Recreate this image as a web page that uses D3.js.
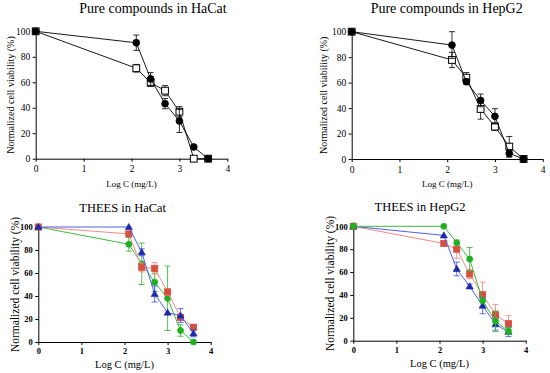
<!DOCTYPE html>
<html>
<head>
<meta charset="utf-8">
<script src="https://cdn.jsdelivr.net/npm/d3@7"></script>
<style>
	body { margin: 0; background: #fff; }
	svg { display: block; font-family: 'Liberation Serif', 'Times New Roman', serif; }
	.axis path, .axis line { stroke: #000; }
	.axis text { font-family: 'Liberation Serif', 'Times New Roman', serif; fill: #000; }
</style>
</head>
<body>
<div id="chart"></div>
<script>
// log concentrations
const logC = [0, 2.1, 2.4, 2.7, 3.0, 3.3, 3.6];
const xTicks = [0, 1, 2, 3, 4];
const yTicks = [0, 20, 40, 60, 80, 100];

// pure compounds, HaCat
const pureHaCatCircle = [100, 91, 62.6, 43.2, 29.6, 9.2, 0];
const pureHaCatCircleErr = [0, 6, 5, 4, 9, 1, 0];
const pureHaCatSquare = [100, 71, 59.7, 53.4, 36.9, 0, 0];
const pureHaCatSquareErr = [0, 3, 3, 4, 4, 0, 0];

// pure compounds, HepG2
const pureHepCircle = [100, 89.5, 60.7, 46, 33.5, 4.5, 0];
const pureHepCircleErr = [0, 10.5, 2, 5, 6, 3, 0];
const pureHepSquare = [100, 77.8, 63.9, 39.3, 25.4, 9.7, 0];
const pureHepSquareErr = [0, 6, 4, 8, 3, 8, 0];

// THEES, HaCat
const theesHaCatBlue = [100, 100, 78, 41.7, 25.5, 23, 7.5];
const theesHaCatBlueErr = [0, 0, 3, 7, 0, 6, 3];
const theesHaCatRed = [100, 94, 65, 64, 43.5, 21.4, 12.8];
const theesHaCatRedErr = [0, 2, 4, 5, 3, 2, 2];
const theesHaCatGreen = [100, 85, 68, 52, 38, 10, 0];
const theesHaCatGreenErr = [0, 6, 18, 8, 28, 5, 0];

// THEES, HepG2
const theesHepBlue = [100, 92, 62.7, 47.5, 30.6, 14.3, 7.6];
const theesHepBlueErr = [0, 0, 6, 2, 7, 5, 4];
const theesHepRed = [100, 85, 80, 58.3, 40.2, 22.7, 14.9];
const theesHepRedErr = [0, 2, 8, 4, 11, 9, 7];
const theesHepGreen = [100, 100, 85.7, 71.4, 35, 17, 8.5];
const theesHepGreenErr = [0, 0, 0, 10, 0, 9, 3];

const width = 550;
const height = 373;

const svg = d3.select('#chart').append('svg')
	.attr('width', width)
	.attr('height', height);

const panels = [
	{
		title: 'Pure compounds in HaCat', box: [35.7, 227.3, 31.3, 158.7],
		titleX: 153, titleY: 13, titleSize: 14,
		yLabelX: 14, xLabelY: 187, labelSize: 9, yLabelSize: 10,
		tickSize: 9.5, tickWeight: 'normal', xPad: 4,
		series: [
			{ values: pureHaCatSquare, err: pureHaCatSquareErr, shape: 'square', line: '#000', fill: '#fff', stroke: '#000' },
			{ values: pureHaCatCircle, err: pureHaCatCircleErr, shape: 'circle', line: '#000', fill: '#000', stroke: '#000' }
		]
	},
	{
		title: 'Pure compounds in HepG2', box: [351.7, 542.7, 31.7, 159],
		titleX: 446.7, titleY: 13, titleSize: 14,
		yLabelX: 327, xLabelY: 187, labelSize: 9, yLabelSize: 10,
		tickSize: 9.5, tickWeight: 'normal', xPad: 4,
		series: [
			{ values: pureHepSquare, err: pureHepSquareErr, shape: 'square', line: '#000', fill: '#fff', stroke: '#000' },
			{ values: pureHepCircle, err: pureHepCircleErr, shape: 'circle', line: '#000', fill: '#000', stroke: '#000' }
		]
	},
	{
		title: 'THEES in HaCat', box: [38.3, 210.7, 227, 342],
		titleX: 122.7, titleY: 212, titleSize: 12.5,
		yLabelX: 19, xLabelY: 368, labelSize: 10.5, yLabelSize: 11.5,
		tickSize: 8.5, tickWeight: 'bold', xPad: 3,
		series: [
			{ values: theesHaCatGreen, err: theesHaCatGreenErr, shape: 'circle', line: '#3dbb3d', fill: '#1fb01f', stroke: '#1fb01f' },
			{ values: theesHaCatRed, err: theesHaCatRedErr, shape: 'square', line: '#f08a86', fill: '#d2503c', stroke: '#e0504a' },
			{ values: theesHaCatBlue, err: theesHaCatBlueErr, shape: 'triangle', line: '#5060e8', fill: '#1c2aa8', stroke: '#1c2aa8' }
		]
	},
	{
		title: 'THEES in HepG2', box: [353.3, 525.7, 226.3, 340.7],
		titleX: 420, titleY: 211, titleSize: 12.5,
		yLabelX: 334, xLabelY: 367, labelSize: 10.5, yLabelSize: 11.5,
		tickSize: 8.5, tickWeight: 'bold', xPad: 3,
		series: [
			{ values: theesHepRed, err: theesHepRedErr, shape: 'square', line: '#f08a86', fill: '#d2503c', stroke: '#e0504a' },
			{ values: theesHepBlue, err: theesHepBlueErr, shape: 'triangle', line: '#5060e8', fill: '#1c2aa8', stroke: '#1c2aa8' },
			{ values: theesHepGreen, err: theesHepGreenErr, shape: 'circle', line: '#3dbb3d', fill: '#1fb01f', stroke: '#1fb01f' }
		]
	}
];

panels.forEach((p) => {
	const [left, right, top, bottom] = p.box;
	const x = d3.scaleLinear().domain([0, 4]).range([left, right]);
	const y = d3.scaleLinear().domain([0, 100]).range([bottom, top]);
	const g = svg.append('g');
	const bottomPanel = p.tickWeight === 'bold';

	// axes
	const xAxisG = g.append('g')
		.attr('class', 'axis')
		.attr('transform', `translate(0, ${bottom})`)
		.call(d3.axisBottom(x).tickValues(xTicks).tickFormat(d3.format('d'))
			.tickSize(3).tickSizeOuter(0).tickPadding(p.xPad));
	const yAxisG = g.append('g')
		.attr('class', 'axis')
		.attr('transform', `translate(${left}, 0)`)
		.call(d3.axisLeft(y).tickValues(yTicks).tickFormat(d3.format('d'))
			.tickSize(3).tickSizeOuter(0).tickPadding(2.5));
	[xAxisG, yAxisG].forEach(a => {
		a.attr('font-family', null);
		a.selectAll('text')
			.style('font-size', p.tickSize + 'px')
			.style('font-weight', p.tickWeight);
	});

	// titles and labels
	g.append('text')
		.attr('x', p.titleX)
		.attr('y', p.titleY)
		.attr('text-anchor', 'middle')
		.style('font-size', p.titleSize + 'px')
		.text(p.title);
	g.append('text')
		.attr('x', (left + right) / 2)
		.attr('y', p.xLabelY)
		.attr('text-anchor', 'middle')
		.style('font-size', p.labelSize + 'px')
		.text('Log C (mg/L)');
	g.append('text')
		.attr('transform', `translate(${p.yLabelX}, ${(top + bottom) / 2}) rotate(-90)`)
		.attr('text-anchor', 'middle')
		.style('font-size', p.yLabelSize + 'px')
		.text('Normalized cell viability (%)');

	const line = d3.line()
		.x((d, i) => x(logC[i]))
		.y(d => y(d));

	p.series.forEach((s) => {
		const pts = s.values.map((v, i) => ({ x: logC[i], v: v, e: s.err[i] }));

		// error bars
		const eb = g.append('g')
			.attr('stroke', bottomPanel ? s.line : '#000')
			.attr('stroke-width', bottomPanel ? 0.9 : 0.8)
			.attr('fill', 'none');
		pts.filter(d => d.e > 0).forEach((d) => {
			const cx = x(d.x);
			eb.append('line')
				.attr('x1', cx).attr('x2', cx)
				.attr('y1', y(d.v - d.e)).attr('y2', y(Math.min(d.v + d.e, 105)));
			[d.v - d.e, d.v + d.e].forEach(val => {
				eb.append('line')
					.attr('x1', cx - 3).attr('x2', cx + 3)
					.attr('y1', y(val)).attr('y2', y(val));
			});
		});

		// connecting line
		g.append('path')
			.datum(s.values)
			.attr('fill', 'none')
			.attr('stroke', s.line)
			.attr('stroke-width', bottomPanel ? 1 : 0.9)
			.attr('d', line);

		// markers
		const size = bottomPanel ? 3 : 3.4;
		pts.forEach((d) => {
			const cx = x(d.x);
			const cy = y(d.v);
			if (s.shape === 'circle') {
				g.append('circle')
					.attr('cx', cx).attr('cy', cy).attr('r', size)
					.attr('fill', s.fill).attr('stroke', s.stroke).attr('stroke-width', 0.8);
			} else if (s.shape === 'square') {
				g.append('rect')
					.attr('x', cx - size).attr('y', cy - size)
					.attr('width', size * 2).attr('height', size * 2)
					.attr('fill', s.fill).attr('stroke', s.stroke).attr('stroke-width', 1);
			} else {
				const r = size + 0.6;
				g.append('path')
					.attr('d', `M${cx},${cy - r}L${cx + r},${cy + r * 0.7}L${cx - r},${cy + r * 0.7}Z`)
					.attr('fill', s.fill).attr('stroke', s.stroke).attr('stroke-width', 0.6);
			}
		});
	});
});
</script>
</body>
</html>
